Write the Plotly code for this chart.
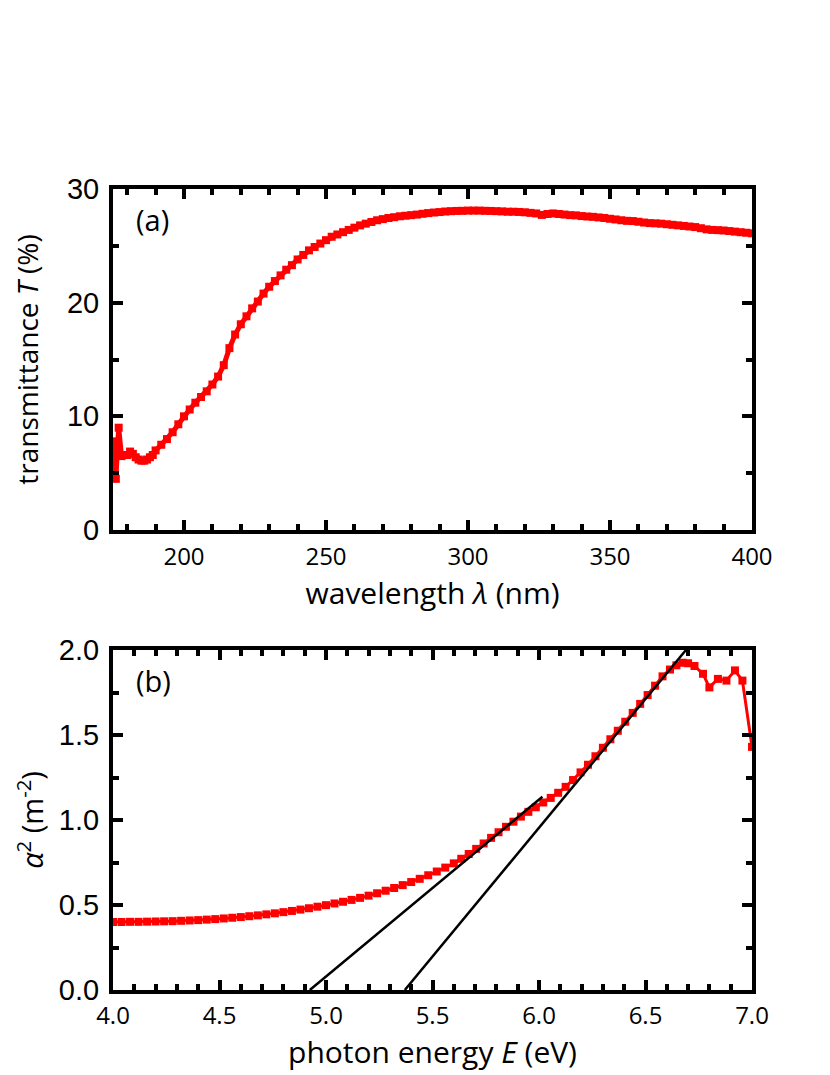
import plotly.graph_objects as go

# ---- panel (a): transmittance vs wavelength
wl_a = [175, 176, 177, 178, 179, 180, 181, 182, 183, 184, 185, 186, 187, 188, 189] + list(range(190, 401, 2))
trans_a = [7.8, 4.5, 9.0, 6.5, 6.6, 6.6, 6.9, 6.7, 6.4, 6.2, 6.1, 6.1, 6.2, 6.4, 6.6,
           7.0, 7.5, 8.0, 8.6, 9.3, 10.0, 10.6, 11.2, 11.7, 12.2,
           12.8, 13.5, 14.5, 16.0, 17.2, 18.1, 18.8, 19.5, 20.1, 20.8,
           21.4, 21.9, 22.4, 22.9, 23.3, 23.8, 24.2, 24.6, 24.9, 25.2,
           25.5, 25.8, 26.0, 26.2, 26.4, 26.6, 26.8, 26.95, 27.1, 27.25,
           27.35, 27.45, 27.52, 27.6, 27.65, 27.7, 27.75, 27.82, 27.88, 27.93,
           27.97, 28.02, 28.05, 28.07, 28.08, 28.1, 28.1, 28.1, 28.08, 28.07,
           28.05, 28.03, 28.0, 28.0, 27.98, 27.95, 27.9, 27.85, 27.72, 27.8,
           27.85, 27.8, 27.75, 27.7, 27.68, 27.62, 27.58, 27.55, 27.5, 27.45,
           27.38, 27.32, 27.25, 27.2, 27.18, 27.12, 27.05, 27.0, 26.98, 26.95,
           26.9, 26.85, 26.8, 26.75, 26.7, 26.65, 26.55, 26.45, 26.4, 26.38,
           26.35, 26.3, 26.25, 26.2, 26.15, 26.1]

# ---- panel (b): alpha^2 vs photon energy
energy_b = [4.00, 4.04, 4.08, 4.12, 4.16, 4.20, 4.24, 4.28, 4.32, 4.36,
            4.40, 4.44, 4.48, 4.52, 4.56, 4.60, 4.64, 4.68, 4.72, 4.76,
            4.80, 4.84, 4.88, 4.92, 4.96, 5.00, 5.04, 5.08, 5.12, 5.16,
            5.20, 5.24, 5.28, 5.32, 5.36, 5.40, 5.44, 5.48, 5.52, 5.56,
            5.60, 5.635, 5.67, 5.705, 5.74, 5.775, 5.81, 5.845, 5.88, 5.915,
            5.95, 5.985, 6.02, 6.055, 6.09, 6.125, 6.16, 6.195, 6.23, 6.265,
            6.30, 6.335, 6.37, 6.405, 6.44, 6.475, 6.51, 6.545, 6.58, 6.615,
            6.645, 6.675, 6.70, 6.73, 6.77, 6.80, 6.84, 6.88, 6.92, 6.955, 7.00]
alpha2_b = [0.400, 0.400, 0.401, 0.401, 0.402, 0.403, 0.404, 0.405, 0.407, 0.409,
            0.411, 0.414, 0.417, 0.421, 0.425, 0.429, 0.434, 0.439, 0.445, 0.451,
            0.458, 0.465, 0.473, 0.481, 0.490, 0.499, 0.509, 0.519, 0.530, 0.542,
            0.555, 0.569, 0.584, 0.600, 0.617, 0.635, 0.654, 0.675, 0.697, 0.720,
            0.745, 0.772, 0.800, 0.830, 0.862, 0.895, 0.928, 0.960, 0.990, 1.020,
            1.048, 1.075, 1.103, 1.130, 1.160, 1.195, 1.235, 1.280, 1.325, 1.375,
            1.425, 1.475, 1.525, 1.578, 1.630, 1.683, 1.735, 1.790, 1.845, 1.885,
            1.910, 1.925, 1.922, 1.906, 1.860, 1.780, 1.830, 1.820, 1.880, 1.820, 1.430]

# linear fits (band-gap extrapolations)
fit1_e = [4.924, 6.016]
fit1_a = [0.0, 1.137]
fit2_e = [5.37, 6.69]
fit2_a = [0.0, 2.0]

RED = "#FF0000"
FONT = "Open Sans, Liberation Sans, sans-serif"
YFONT = "Liberation Sans, Arial, sans-serif"

fig = go.Figure()
fig.add_trace(go.Scatter(x=wl_a, y=trans_a, mode="lines+markers",
                         line=dict(color=RED, width=5),
                         marker=dict(symbol="square", size=8, color=RED),
                         xaxis="x", yaxis="y", showlegend=False))
fig.add_trace(go.Scatter(x=energy_b, y=alpha2_b, mode="lines+markers",
                         line=dict(color=RED, width=3),
                         marker=dict(symbol="square", size=8, color=RED),
                         xaxis="x2", yaxis="y2", showlegend=False))
for fe, fa in [(fit1_e, fit1_a), (fit2_e, fit2_a)]:
    fig.add_trace(go.Scatter(x=fe, y=fa, mode="lines",
                             line=dict(color="black", width=2.5),
                             xaxis="x2", yaxis="y2", showlegend=False))


def ax(title, tsize, standoff, minor, lab_off, tickfont, **kw):
    d = dict(showline=True, linecolor="black", linewidth=4, mirror="ticks",
             ticks="inside", ticklen=10, tickwidth=3.5, tickcolor="black",
             showgrid=False, zeroline=False, ticklabelstandoff=lab_off,
             automargin=False, tickfont=tickfont,
             title=dict(text=title, standoff=standoff,
                        font=dict(size=tsize, color="black", family=FONT)),
             minor=dict(dtick=minor, ticks="inside", ticklen=6,
                        tickwidth=3.5, tickcolor="black", showgrid=False))
    d.update(kw)
    return d


xtick = dict(size=24, color="black", family=FONT)
ytick = dict(size=29, color="black", family=YFONT)

# page is drawn with an 8px body offset, so size the figure to fit the window
top_lo = 460 / 801
bot_hi = 340 / 801
fig.update_layout(
    width=822, height=1067,
    paper_bgcolor="white", plot_bgcolor="white",
    margin=dict(l=105, r=78, t=181, b=85),
    font=dict(family=FONT, color="black"),
    xaxis=ax("wavelength <i>λ</i> (nm)", 30, 0, 10, 2, xtick,
             range=[175, 400], dtick=50, tick0=200, anchor="y", domain=[0, 1]),
    yaxis=ax("transmittance <i>T</i> (%)", 28, 34, 5, 4, ytick,
             range=[0, 30], dtick=10, anchor="x", domain=[top_lo, 1]),
    xaxis2=ax("photon energy <i>E</i> (eV)", 30, 0, 0.1, 1, xtick,
              range=[4, 7], dtick=0.5, tickformat=".1f", anchor="y2", domain=[0, 1]),
    yaxis2=ax("<i>α</i><sup>2</sup> (m<sup>-2</sup>)", 29, 8, 0.25, 4, ytick,
              range=[0, 2], dtick=0.5, tickformat=".1f", anchor="x2", domain=[0, bot_hi]),
    annotations=[
        dict(text="(a)", xref="x domain", yref="y domain", x=0.033, y=0.975,
             xanchor="left", yanchor="top", showarrow=False,
             font=dict(size=29, color="black", family=FONT)),
        dict(text="(b)", xref="x2 domain", yref="y2 domain", x=0.033, y=0.975,
             xanchor="left", yanchor="top", showarrow=False,
             font=dict(size=29, color="black", family=FONT)),
    ],
)

fig.write_html("out.html")
